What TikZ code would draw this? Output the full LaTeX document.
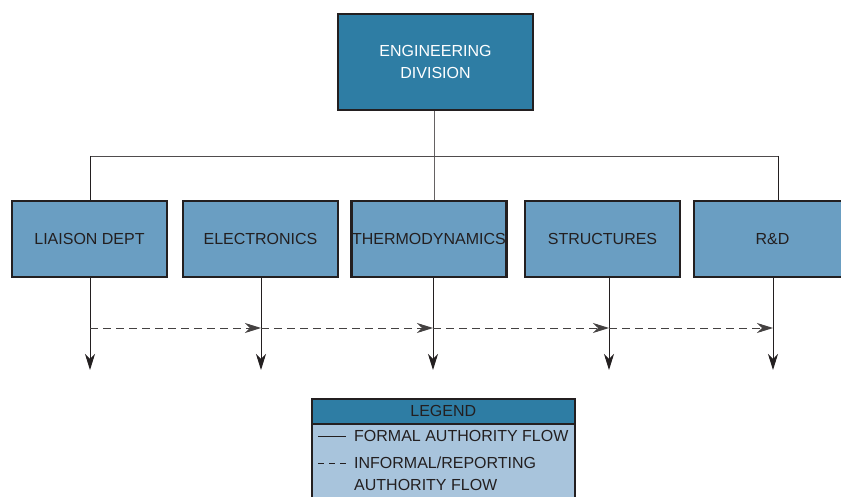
\documentclass[tikz,border=0pt]{standalone}
\usepackage{fontspec}
\setmainfont{Liberation Sans}
\usetikzlibrary{arrows.meta}
\definecolor{topblue}{HTML}{2E7DA4}
\definecolor{deptblue}{HTML}{6A9EC2}
\definecolor{legbody}{HTML}{A8C4DC}
\definecolor{edge}{HTML}{231F20}
\definecolor{txt}{HTML}{231F20}
\tikzset{
  lab/.style={font=\fontsize{16}{22}\selectfont},
  box/.style={draw=edge, line width=2.2pt, minimum width=155pt, minimum height=76pt, inner sep=0pt, lab, text=txt, align=center},
  dept/.style={box, fill=deptblue},
  topbox/.style={box, fill=topblue, minimum width=195pt, minimum height=96pt, text=white},
  formal/.style={draw=edge, line width=0.9pt},
  downarrow/.style={formal, -{Stealth[length=16pt, width=10pt, inset=5pt]}},
  informal/.style={draw=edge!85, line width=0.9pt, dash pattern=on 8pt off 5pt, -{Stealth[length=16pt, width=10pt, inset=5pt]}},
  legtext/.style={lab, text=txt, anchor=west, inner sep=0pt, align=left}
}
\begin{document}
\begin{tikzpicture}[x=1pt, y=-1pt]
\useasboundingbox (0,0) rectangle (841,497);
\clip (0,0) rectangle (841,497);
% boxes
\node[topbox] (top) at (435.5,62) {ENGINEERING\\DIVISION};
\node[dept] (liaison) at (89.5,239) {LIAISON DEPT};
\node[dept] (elec) at (260.5,239) {ELECTRONICS};
\node[dept] (thermo) at (429,239) {THERMODYNAMICS};
\node[dept] (struct) at (602.5,239) {STRUCTURES};
\node[dept, minimum width=157pt] (rd) at (772.5,239) {R\&D};
% formal tree
\coordinate (busL) at (90,156);
\coordinate (busR) at (778,156);
\draw[formal, draw=edge!70] (top.south -| 434,0) -- (thermo.north -| 434,0);
\draw[formal, draw=edge!80] (busL) -- (busR);
\draw[formal] (busL) -- (liaison.north -| busL);
\draw[formal] (busR) -- (rd.north -| busR);
% down arrows
\foreach \n/\x in {liaison/90, elec/261, thermo/433, struct/609, rd/773}{
  \coordinate (d\n) at (\x,328);
  \coordinate (e\n) at (\x,370);
  \draw[downarrow] (\n.south -| e\n) -- (e\n);
}
% informal flows
\draw[informal] (dliaison) -- (delec);
\draw[informal] (delec) -- (dthermo);
\draw[informal] (dthermo) -- (dstruct);
\draw[informal] (dstruct) -- (drd);
% legend
\node[draw=edge, line width=1.6pt, fill=legbody, minimum width=263pt, minimum height=110pt, anchor=north west, inner sep=0pt] (legend) at (311,398) {};
\node[draw=edge, line width=1.6pt, fill=topblue, minimum width=263pt, minimum height=25pt, anchor=north west, inner sep=0pt, lab, text=txt] (leghead) at (311,398) {LEGEND};
\coordinate (s1) at (318,436);
\coordinate (s2) at (346,436);
\draw[draw=edge, line width=0.8pt] (s1) -- (s2);
\coordinate (t1) at (318,463);
\coordinate (t2) at (346,463);
\draw[draw=edge, line width=0.8pt, dash pattern=on 6pt off 5pt] (t1) -- (t2);
\node[legtext] (l1) at (354,436) {FORMAL AUTHORITY FLOW};
\node[legtext] (l2) at (354,474) {INFORMAL/REPORTING\\AUTHORITY FLOW};
\end{tikzpicture}
\end{document}
